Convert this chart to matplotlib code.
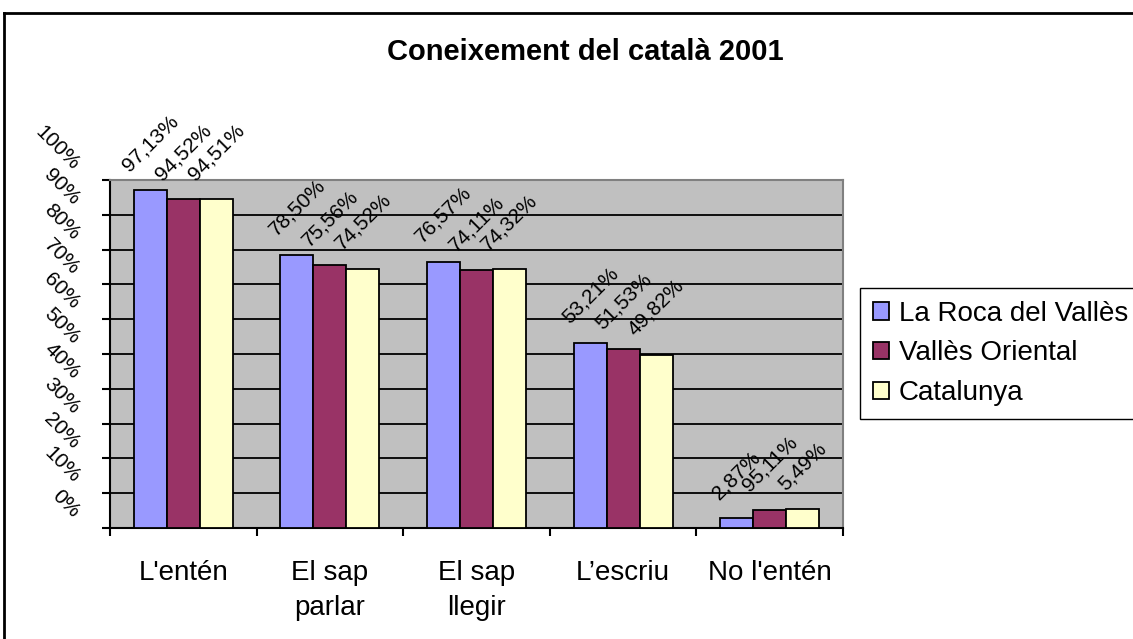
import numpy as np
import matplotlib
matplotlib.use("Agg")
import matplotlib.pyplot as plt
from matplotlib.lines import Line2D
from matplotlib.transforms import ScaledTranslation

plt.rcParams['font.family'] = ['Liberation Sans', 'DejaVu Sans']

# dades
categories = ["L'entén", "El sap\nparlar", "El sap\nllegir", "L\u2019escriu", "No l'entén"]
series_names = ["La Roca del Vallès", "Vallès Oriental", "Catalunya"]
roca = [97.13, 78.50, 76.57, 53.21, 2.87]
valles = [94.52, 75.56, 74.11, 51.53, 5.11]
catalunya = [94.51, 74.52, 74.32, 49.82, 5.49]
roca_labels = ["97,13%", "78,50%", "76,57%", "53,21%", "2,87%"]
valles_labels = ["94,52%", "75,56%", "74,11%", "51,53%", "95,11%"]
catalunya_labels = ["94,51%", "74,52%", "74,32%", "49,82%", "5,49%"]
colors = ["#9999FF", "#993366", "#FFFFCC"]
yticks = list(range(0, 101, 10))

fig = plt.figure(figsize=(11.33, 6.39), dpi=100)
ax = fig.add_axes([0.0971, 0.1737, 0.6469, 0.5446])
ax.set_facecolor("#C0C0C0")

x = np.arange(len(categories))
w = 0.225
all_vals = [roca, valles, catalunya]
all_labels = [roca_labels, valles_labels, catalunya_labels]
for i in range(3):
    pos = x + (i - 1) * w
    ax.bar(pos, all_vals[i], width=w, color=colors[i], edgecolor="black",
           linewidth=1.3, label=series_names[i], zorder=3)
    for xp, v, lab in zip(pos, all_vals[i], all_labels[i]):
        ax.annotate(lab, (xp, v), xytext=(0, 11), textcoords="offset points",
                    rotation=45, ha="center", va="bottom", fontsize=15, zorder=4)

ax.set_xlim(-0.5, len(categories) - 0.5)
ax.set_ylim(0, 100)

# eix y: etiquetes girades i desplaçades cap amunt
ax.set_yticks(yticks)
ax.set_yticklabels([f"{t}%" for t in yticks], rotation=-45,
                   rotation_mode="anchor", ha="right", va="center", fontsize=15)
ax.tick_params(axis="y", direction="out", length=6, width=1.5, pad=18)
for lab in ax.get_yticklabels():
    lab.set_transform(lab.get_transform() + ScaledTranslation(0, 0.13, fig.dpi_scale_trans))

ax.yaxis.grid(True, color="black", linewidth=1.3, zorder=1)
ax.set_axisbelow(True)
ax.yaxis.get_major_ticks()[-1].gridline.set_visible(False)

# eix x: marques entre categories, etiquetes al mig
ax.set_xticks(np.arange(-0.5, len(categories), 1))
ax.set_xticklabels([])
ax.set_xticks(x, minor=True)
ax.set_xticklabels(categories, minor=True, fontsize=20, linespacing=1.45, va="top")
ax.tick_params(axis="x", which="major", direction="out", length=6, width=1.5)
ax.tick_params(axis="x", which="minor", length=0, pad=23)

for s in ["left", "bottom"]:
    ax.spines[s].set_color("black")
    ax.spines[s].set_linewidth(1.5)
for s in ["top", "right"]:
    ax.spines[s].set_color("#808080")
    ax.spines[s].set_linewidth(1.5)

fig.text(585 / 1133, 1 - 52 / 639, "Coneixement del català 2001", ha="center",
         va="center", fontsize=21, fontweight="bold")

fig.legend(loc="upper left", bbox_to_anchor=(860 / 1133, 1 - 288 / 639),
           fontsize=20, frameon=True, fancybox=False, edgecolor="black",
           framealpha=1, handlelength=0.6, handleheight=0.6, handletextpad=0.35,
           labelspacing=0.5, borderpad=0.45, borderaxespad=0)

# marc del gràfic
fig.add_artist(Line2D([4 / 1133, 1], [1 - 13 / 639] * 2, transform=fig.transFigure,
                      color="black", linewidth=2))
fig.add_artist(Line2D([4 / 1133] * 2, [0, 1 - 13 / 639], transform=fig.transFigure,
                      color="black", linewidth=2))

fig.savefig("out.png", dpi=100)
